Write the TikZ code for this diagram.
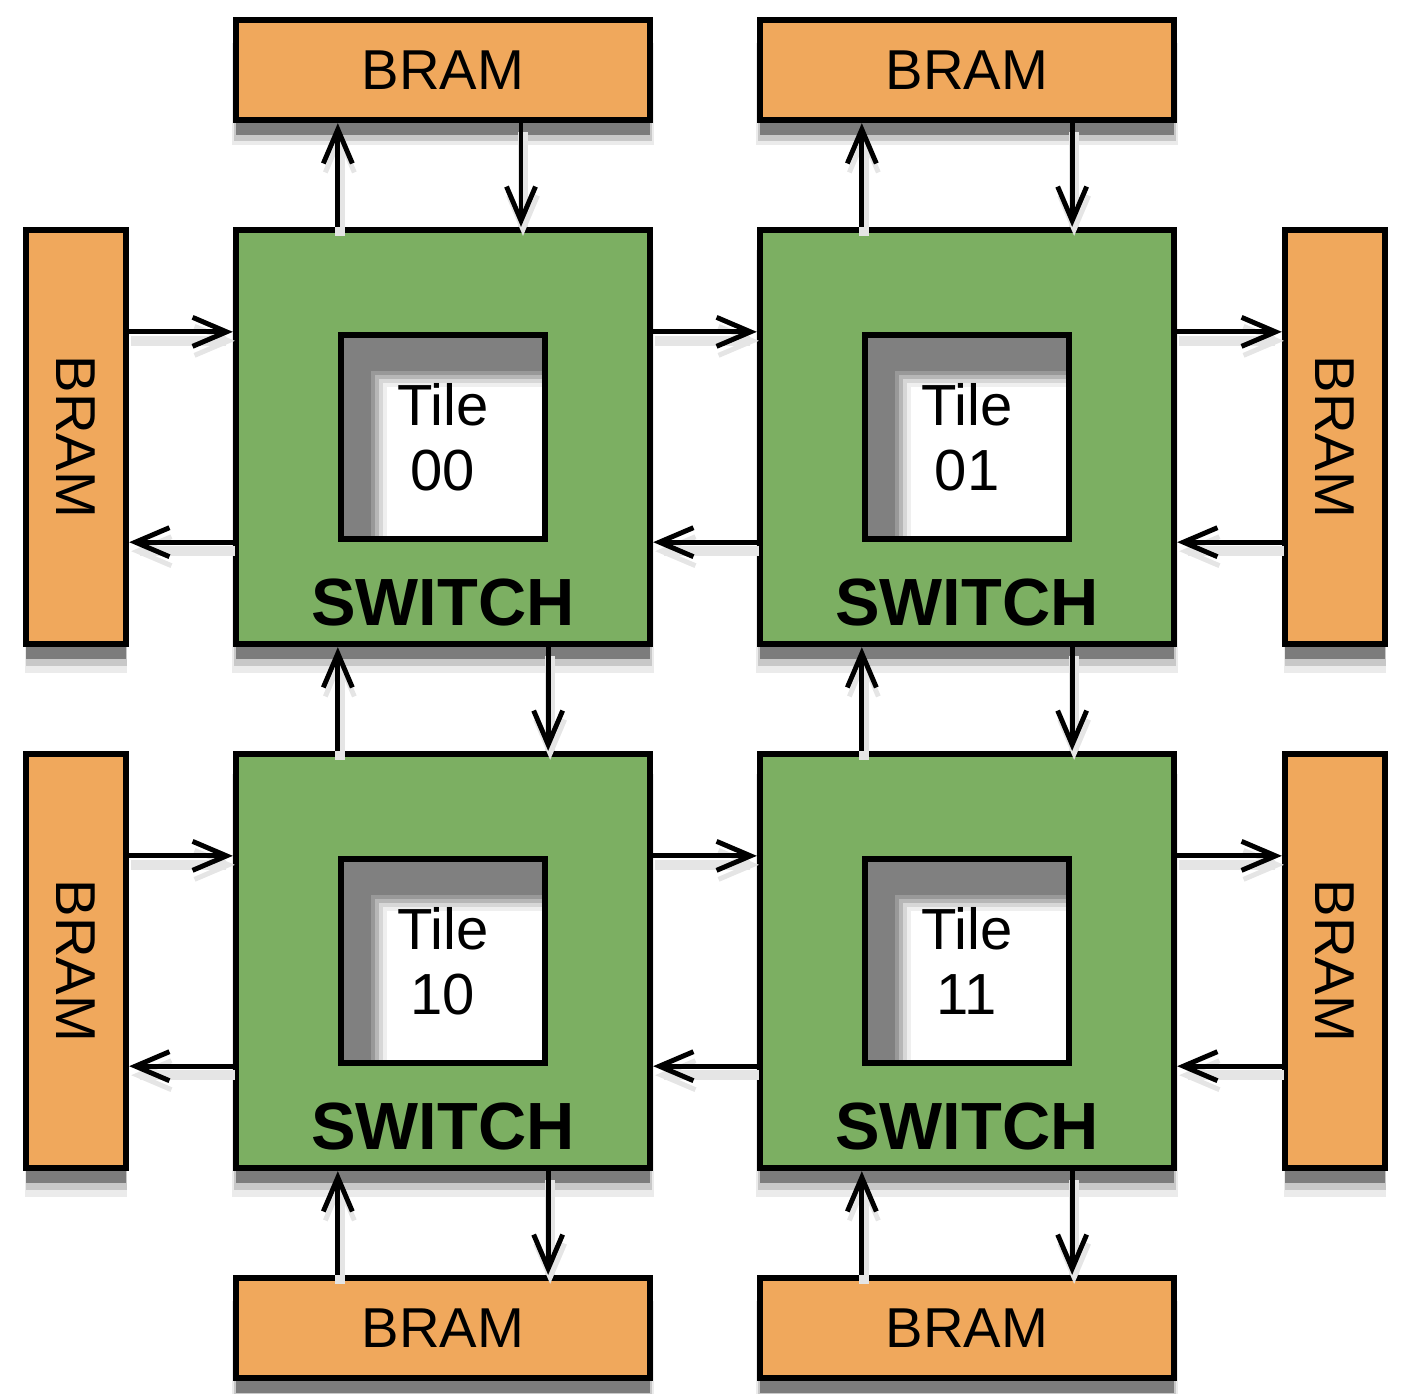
\documentclass[tikz,border=0pt]{standalone}
\usepackage{fontspec}
\setmainfont{Liberation Sans}
\usetikzlibrary{arrows.meta,shadows,calc}
\definecolor{bramorange}{HTML}{F0A85C}
\definecolor{switchgreen}{HTML}{7CAF62}
\definecolor{tileshade}{HTML}{808080}
\tikzset{
  boxshadow/.style={drop shadow={shadow xshift=0mm,shadow yshift=-2.4mm,shadow scale=1.02,fill=black,opacity=.08},
                    drop shadow={shadow xshift=0mm,shadow yshift=-2.0mm,shadow scale=1.01,fill=black,opacity=.15},
                    drop shadow={shadow xshift=0mm,shadow yshift=-1.5mm,fill=black,opacity=.38}},
  brambox/.style={draw=black,line width=1.8pt,fill=bramorange,inner sep=0pt,boxshadow,font=\fontsize{16}{19}\selectfont},
  bramh/.style={brambox,minimum width=4.14cm,minimum height=1.00cm},
  bramv/.style={brambox,minimum width=1.00cm,minimum height=4.14cm},
  swbox/.style={draw=black,line width=1.8pt,fill=switchgreen,minimum size=4.14cm,boxshadow},
  tilebox/.style={draw=black,line width=1.8pt,fill=tileshade,minimum size=2.04cm,align=center,inner sep=0pt,
    font=\fontsize{16.5}{18.5}\selectfont,
    path picture={
      \fill[white,opacity=.2] ([shift={(3.0mm,-3.6mm)}]path picture bounding box.north west) rectangle (path picture bounding box.south east);
      \fill[white,opacity=.3] ([shift={(3.4mm,-4.0mm)}]path picture bounding box.north west) rectangle (path picture bounding box.south east);
      \fill[white,opacity=.45] ([shift={(3.8mm,-4.4mm)}]path picture bounding box.north west) rectangle (path picture bounding box.south east);
      \fill[white,opacity=.6] ([shift={(4.2mm,-4.8mm)}]path picture bounding box.north west) rectangle (path picture bounding box.south east);
      \fill[white] ([shift={(4.6mm,-5.2mm)}]path picture bounding box.north west) rectangle (path picture bounding box.south east);
    }},
  swlabel/.style={font=\fontsize{19}{22}\selectfont\bfseries,inner sep=0pt},
  link/.style={line width=1.4pt,-{Straight Barb[length=3.4mm,width=2.9mm,line width=1.4pt]},
    preaction={draw=black!10,line width=3pt,transform canvas={shift={(0.2mm,-0.9mm)}}}}
}
\begin{document}
\begin{tikzpicture}
\useasboundingbox (0,0) rectangle (14.08,-13.93);
% memory blocks around the mesh
\node[bramh] (bt0) at (4.43,-0.70) {BRAM};
\node[bramh] (bt1) at (9.67,-0.70) {BRAM};
\node[bramh] (bb0) at (4.43,-13.28) {BRAM};
\node[bramh] (bb1) at (9.67,-13.28) {BRAM};
\node[bramv] (bl0) at (0.76,-4.37) {\rotatebox{-90}{BRAM}};
\node[bramv] (bl1) at (0.76,-9.61) {\rotatebox{-90}{BRAM}};
\node[bramv] (br0) at (13.35,-4.37) {\rotatebox{-90}{BRAM}};
\node[bramv] (br1) at (13.35,-9.61) {\rotatebox{-90}{BRAM}};
% switches with their tiles
\foreach \n/\x/\y in {00/4.43/-4.37,01/9.67/-4.37,10/4.43/-9.61,11/9.67/-9.61}{
  \node[swbox] (s\n) at (\x,\y) {};
  \node[tilebox] (t\n) at (\x,\y) {Tile\\\n};
  \node[swlabel,anchor=base] (w\n) at ([yshift=2.2mm]s\n.south) {SWITCH};
}
% horizontal links
\foreach \r in {0,1}{
  \draw[link] (bl\r.east |- t\r0.north) -- (s\r0.west |- t\r0.north);
  \draw[link] (s\r0.west |- t\r0.south) -- (bl\r.east |- t\r0.south);
  \draw[link] (s\r0.east |- t\r0.north) -- (s\r1.west |- t\r0.north);
  \draw[link] (s\r1.west |- t\r1.south) -- (s\r0.east |- t\r1.south);
  \draw[link] (s\r1.east |- t\r1.north) -- (br\r.west |- t\r1.north);
  \draw[link] (br\r.west |- t\r1.south) -- (s\r1.east |- t\r1.south);
}
% vertical links
\draw[link] (t00.west |- s00.north) -- (t00.west |- bt0.south);
\draw[link] ([xshift=7.8mm]bt0.south) -- ([xshift=7.8mm]s00.north);
\draw[link] (t01.west |- s01.north) -- (t01.west |- bt1.south);
\draw[link] (t01.east |- bt1.south) -- (t01.east |- s01.north);
\draw[link] (t10.west |- s10.north) -- (t10.west |- s00.south);
\draw[link] (t00.east |- s00.south) -- (t00.east |- s10.north);
\draw[link] (t11.west |- s11.north) -- (t11.west |- s01.south);
\draw[link] (t01.east |- s01.south) -- (t01.east |- s11.north);
\draw[link] (t10.west |- bb0.north) -- (t10.west |- s10.south);
\draw[link] (t10.east |- s10.south) -- (t10.east |- bb0.north);
\draw[link] (t11.west |- bb1.north) -- (t11.west |- s11.south);
\draw[link] (t11.east |- s11.south) -- (t11.east |- bb1.north);
\end{tikzpicture}
\end{document}
